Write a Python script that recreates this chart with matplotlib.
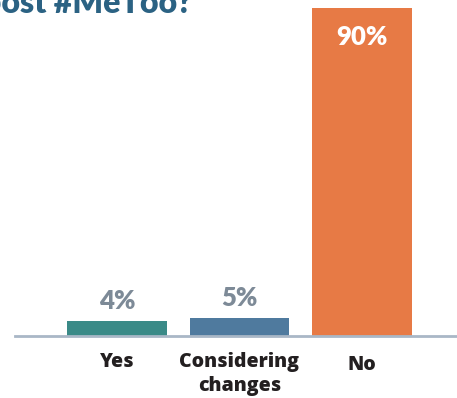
import matplotlib.pyplot as plt

# Data
categories = ['Yes', 'Considering\nchanges', 'No']
values = [4, 5, 90]
value_labels = ['4%', '5%', '90%']
colors = ['#3a8a87', '#4f7a9e', '#e77a45']

fig = plt.figure(figsize=(4.57, 3.98), dpi=100)
W, H = 457, 398
# axes spans x 15..457 px, y 0..336 px (from top)
ax = fig.add_axes([15 / W, (H - 336) / H, 442 / W, 336 / H])

x = list(range(len(categories)))
bars = ax.bar(x, values, width=0.816, color=colors, zorder=2)
ax.set_xlim(-0.833, 2.776)
ax.set_ylim(0, 92.2)

for s in ['top', 'left', 'right']:
    ax.spines[s].set_visible(False)
ax.spines['bottom'].set_color('#a9b7c6')
ax.spines['bottom'].set_linewidth(2)
ax.set_yticks([])
ax.set_xticks([])

px = 0.72  # points per pixel

# value labels
for i, (v, lab) in enumerate(zip(values, value_labels)):
    if v > 50:
        ax.annotate(lab, (i, v), xytext=(0, -17 * px), textcoords='offset points',
                    ha='center', va='top', color='white', fontsize=18.5,
                    fontweight='heavy', family='Lato')
    else:
        ax.annotate(lab, (i, v), xytext=(0, 8 * px), textcoords='offset points',
                    ha='center', va='bottom', color='#7d8a97', fontsize=18.5,
                    fontweight='heavy', family='Lato')

# category labels
offsets = [-16, -16, -19]
for i, (cat, off) in enumerate(zip(categories, offsets)):
    ax.annotate(cat, (i, 0), xytext=(0, off * px), textcoords='offset points',
                ha='center', va='top', color='#231f20', fontsize=14,
                fontweight=800, family='Open Sans', linespacing=1.25)

# cropped title
fig.text(-17 / W, 1 - 13 / H, 'post #MeToo?', ha='left', va='baseline',
         color='#2b6283', fontsize=23, fontweight='heavy', family='Lato')

fig.savefig('out.png', dpi=100)
plt.close(fig)
